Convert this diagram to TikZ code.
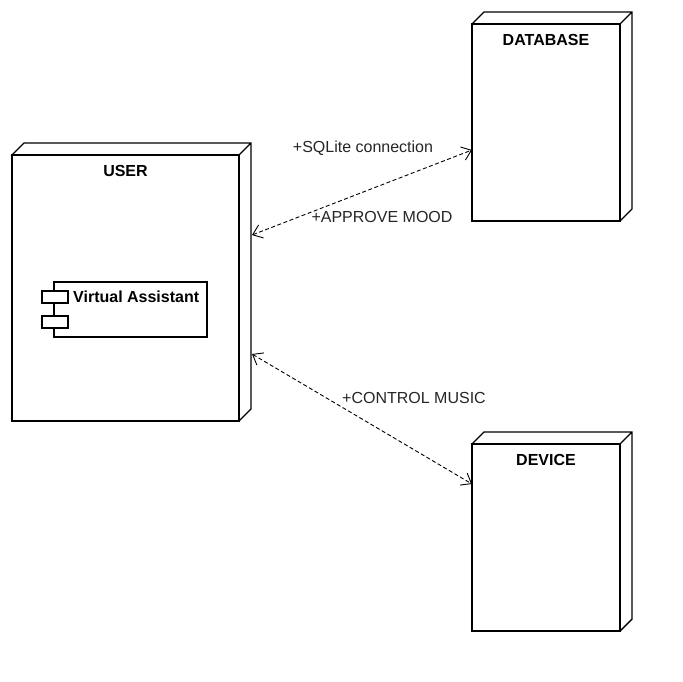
\documentclass[tikz,border=0pt]{standalone}
\usepackage{fontspec}
\setmainfont{Liberation Sans}
\usetikzlibrary{positioning,arrows.meta}

\tikzset{
  nodebox/.style={draw, line width=1.4pt, fill=white, inner sep=0pt, outer sep=0pt, anchor=north west},
  nodetitle/.style={font=\fontsize{16}{18}\selectfont\bfseries, inner sep=0pt},
  compbox/.style={draw, line width=1.1pt, fill=white, inner sep=0pt, outer sep=0pt},
  msg/.style={font=\fontsize{16}{18}\selectfont, text=black!85, inner sep=0pt},
  depends/.style={<->, >={Straight Barb[length=9pt,width=14pt]}, line width=0.9pt, dash pattern=on 4pt off 2.5pt},
}

\begin{document}
\begin{tikzpicture}[x=1pt, y=-1pt]

\fill[white] (0,0) rectangle (683,682);
\useasboundingbox (0,0) rectangle (683,682);

% user node
\node[nodebox, minimum width=227pt, minimum height=266pt] (user) at (12,155) {};
\draw[line width=1.4pt] (user.north west) -- ++(12,-12) -| ([shift={(12,-12)}]user.south east) -- (user.south east) (user.north east) -- ++(12,-12);
\node[nodetitle, below=10pt of user.north] (usertitle) {USER};

\node[compbox, minimum width=153pt, minimum height=55pt, anchor=north west] (va) at (54,282) {};
\node[compbox, minimum width=26pt, minimum height=12pt] (vaport1) at (55,297) {};
\node[compbox, minimum width=26pt, minimum height=12pt] (vaport2) at (55,322) {};
\node[nodetitle, right=5pt of vaport1] (vatitle) {Virtual Assistant};

% database node
\node[nodebox, minimum width=148pt, minimum height=197pt] (db) at (472,24) {};
\draw[line width=1.4pt] (db.north west) -- ++(12,-12) -| ([shift={(12,-12)}]db.south east) -- (db.south east) (db.north east) -- ++(12,-12);
\node[nodetitle, below=10pt of db.north] (dbtitle) {DATABASE};

% device node
\node[nodebox, minimum width=148pt, minimum height=187pt] (device) at (472,444) {};
\draw[line width=1.4pt] (device.north west) -- ++(12,-12) -| ([shift={(12,-12)}]device.south east) -- (device.south east) (device.north east) -- ++(12,-12);
\node[nodetitle, below=10pt of device.north] (devicetitle) {DEVICE};

% connections
\draw[depends] ([shift={(13,-53)}]user.east) -- ([shift={(0,27.5)}]db.west);
\draw[depends] ([shift={(13,66)}]user.east) -- ([shift={(0,-53.5)}]device.west);

\node[msg] (sqlite) at (363,148) {+SQLite connection};
\node[msg] (approve) at (382,217) {+APPROVE MOOD};
\node[msg] (control) at (414,398) {+CONTROL MUSIC};

\end{tikzpicture}
\end{document}
